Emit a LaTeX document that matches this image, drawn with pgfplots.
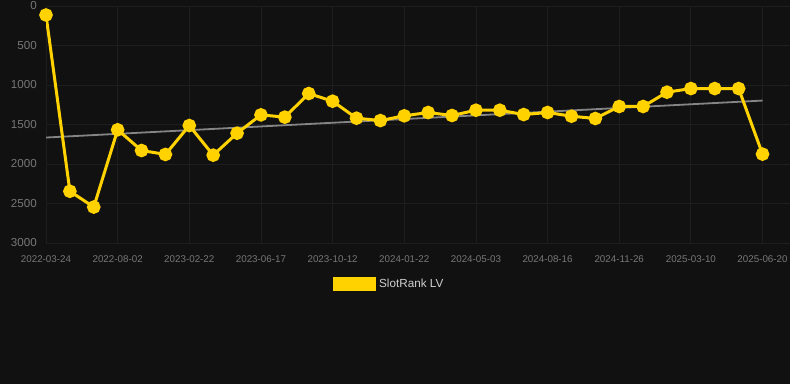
\documentclass[border=0pt]{standalone}
\usepackage{pgfplots}
\pgfplotsset{compat=1.18}
\usepackage{fontspec}
\setmainfont{Liberation Sans}
\definecolor{bg}{HTML}{111111}
\definecolor{gridc}{HTML}{1E1E1E}
\definecolor{ticklab}{HTML}{777777}
\definecolor{gold}{HTML}{FFD200}
\definecolor{trend}{HTML}{858585}
\definecolor{legtext}{HTML}{D0D0D0}
\begin{document}
\begin{tikzpicture}[x=1pt,y=1pt]
\path[use as bounding box] (0,0) rectangle (790,384);
\fill[bg] (0,0) rectangle (790,384);
\begin{axis}[
  at={(46pt,141pt)}, anchor=south west,
  width=744pt, height=237pt, scale only axis,
  xmin=0, xmax=31.15,
  ymin=0, ymax=3000, y dir=reverse,
  axis line style={draw=none},
  major tick length=0pt,
  grid=major,
  grid style={draw=gridc, line width=0.8pt},
  xtick={0,3,...,30},
  xticklabels={2022-03-24,2022-08-02,2023-02-22,2023-06-17,2023-10-12,2024-01-22,2024-05-03,2024-08-16,2024-11-26,2025-03-10,2025-06-20},
  ytick={0,500,1000,1500,2000,2500,3000},
  /pgf/number format/assume math mode=true,
  /pgf/number format/1000 sep={},
  xticklabel style={font=\fontsize{9.8}{10}\selectfont, text=ticklab, anchor=base, yshift=-19.5pt},
  yticklabel style={font=\fontsize{11.6}{12}\selectfont, text=ticklab, anchor=east, inner sep=0pt, xshift=-9pt},
  legend style={at={(0.462,-0.173)}, anchor=center, draw=none, fill=none,
    text=legtext, font=\fontsize{11.7}{12}\selectfont,
    legend cell align=left, inner sep=0pt, nodes={inner sep=3.5pt}},
]
\addplot[trend, line width=1.8pt, forget plot] coordinates {(0,1665) (30,1197)};
\addplot[gold, line width=3pt, mark=*, mark size=5.3pt, mark options={fill=gold, draw=none},
  legend image code/.code={\fill[gold] (0pt,-5.5pt) rectangle (40pt,5.5pt);}]
coordinates {
(0,114) (1,2345) (2,2545) (3,1567) (4,1829) (5,1879) (6,1513) (7,1888) (8,1610) (9,1378)
(10,1407) (11,1108) (12,1205) (13,1420) (14,1450) (15,1390) (16,1348) (17,1386) (18,1319) (19,1319)
(20,1374) (21,1348) (22,1395) (23,1424) (24,1272) (25,1272) (26,1091) (27,1045) (28,1045) (29,1045)
(30,1875)};
\addlegendentry{SlotRank LV}
\end{axis}
\end{tikzpicture}
\end{document}
